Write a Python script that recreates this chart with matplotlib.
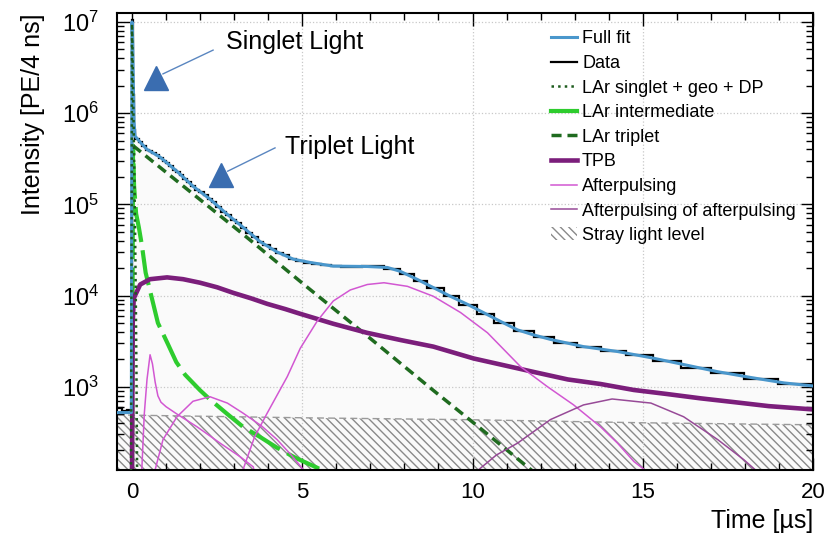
import matplotlib.pyplot as plt
from matplotlib.patches import Patch
from matplotlib.ticker import MultipleLocator, LogLocator

plt.rcParams['font.family'] = ['Liberation Sans', 'DejaVu Sans']
plt.rcParams['mathtext.fontset'] = 'custom'
plt.rcParams['mathtext.rm'] = 'Liberation Sans'
plt.rcParams['mathtext.it'] = 'Liberation Sans:italic'
plt.rcParams['hatch.linewidth'] = 1.0

# Datos (histograma con bins que crecen con el tiempo)
data_edges = [-0.6, -0.3, -0.15, 0.0, 0.03, 0.06, 0.1,
              0.2, 0.3, 0.4, 0.5, 0.6, 0.7, 0.8, 0.9, 1.0, 1.1, 1.2, 1.3, 1.4, 1.5,
              1.62, 1.74, 1.86, 1.98, 2.1, 2.22, 2.35, 2.48, 2.62, 2.76, 2.9,
              3.05, 3.2, 3.36, 3.52, 3.69, 3.86, 4.04, 4.23, 4.42, 4.62, 4.83,
              5.05, 5.3, 5.55, 5.85, 6.15, 6.45, 6.75, 7.05, 7.39,
              7.88, 8.27, 8.67, 9.16, 9.60, 10.14, 10.63, 11.22, 11.80, 12.39,
              13.08, 13.76, 14.50, 15.29, 16.12, 17.0, 17.98, 18.96, 19.94, 20.9]
data_counts = [580, 540, 560, 1.05e7, 1.6e6, 6.6e5,
               5.25e5, 4.79e5, 4.37e5, 3.98e5, 3.85e5, 3.67e5, 3.47e5, 3.24e5, 3.02e5,
               2.82e5, 2.63e5, 2.40e5, 2.24e5, 2.09e5,
               1.91e5, 1.74e5, 1.58e5, 1.45e5, 1.35e5, 1.26e5,
               1.15e5, 1.05e5, 9.3e4, 8.3e4, 7.6e4,
               6.8e4, 6.2e4, 5.5e4, 4.9e4, 4.4e4, 3.9e4,
               3.55e4, 3.24e4, 2.95e4, 2.75e4, 2.51e4,
               2.4e4, 2.29e4, 2.21e4, 2.14e4, 2.09e4, 2.07e4, 2.04e4, 2.09e4, 2.11e4,
               1.95e4, 1.70e4, 1.45e4, 1.20e4, 9.8e3,
               7.9e3, 6.3e3, 5.0e3, 4.1e3, 3.5e3,
               3.0e3, 2.7e3, 2.45e3, 2.2e3, 1.9e3,
               1.62e3, 1.40e3, 1.2e3, 1.07e3, 980]

# Ajuste completo
fit_t = [-0.44, -0.02, 0.0, 0.02, 0.04, 0.06, 0.09, 0.24, 0.44, 0.82, 1.32, 1.79,
         2.29, 2.79, 3.26, 3.76, 4.26, 4.74, 5.24, 5.91, 6.91, 7.5, 7.88, 8.38,
         8.85, 9.35, 9.85, 10.32, 10.82, 11.32, 11.79, 12.29, 13.26, 14.26,
         15.24, 16.2, 17.2, 18.18, 19.15, 20.2]
fit_y = [520, 520, 1.0e7, 6e6, 2e6, 8e5, 5.6e5, 4.8e5, 4.0e5, 3.3e5, 2.3e5, 1.58e5,
         1.14e5, 7.8e4, 5.6e4, 3.9e4, 3.0e4, 2.5e4, 2.3e4, 2.1e4, 2.08e4, 2.03e4,
         1.84e4, 1.5e4, 1.22e4, 9.8e3, 8.0e3, 6.5e3, 5.2e3, 4.2e3, 3.7e3, 3.3e3,
         2.75e3, 2.43e3, 2.08e3, 1.75e3, 1.46e3, 1.26e3, 1.1e3, 1.0e3]

# Componentes
singlet_t = [-0.03, -0.01, 0.0, 0.01, 0.03, 0.05, 0.07, 0.09, 0.11, 0.13, 0.15]
singlet_y = [100, 1e5, 9.5e6, 6e6, 2e6, 6e5, 2e5, 5e4, 1e4, 1.5e3, 100]

inter_t = [0.0, 0.03, 0.06, 0.12, 0.2, 0.29, 0.4, 0.55, 0.76, 1.06, 1.3, 1.56,
           2.0, 2.29, 2.8, 3.26, 3.8, 4.26, 4.8, 5.44, 5.7]
inter_y = [100, 4.4e5, 1.6e5, 7.9e4, 5.6e4, 3.55e4, 1.78e4, 1.05e4, 5.0e3, 2.9e3,
           1.86e3, 1.35e3, 912, 724, 501, 363, 275, 214, 166, 129, 115]

triplet_t = [0.03, 1.32, 3.26, 5.15, 6.76, 8.85, 10.24, 11.75, 12.0]
triplet_y = [4.4e5, 1.8e5, 4.7e4, 1.23e4, 4.0e3, 910, 347, 120, 100]

tpb_t = [0.0, 0.02, 0.05, 0.24, 0.53, 1.03, 1.5, 2.0, 2.5, 2.97, 3.5, 3.97, 4.5,
         4.94, 5.91, 6.9, 7.9, 8.85, 10.03, 11.8, 12.8, 13.76, 14.74, 15.7, 16.7,
         17.7, 18.7, 20.2]
tpb_y = [100, 5.0e3, 9.3e3, 1.32e4, 1.51e4, 1.58e4, 1.51e4, 1.38e4, 1.23e4, 1.07e4,
         9.3e3, 8.1e3, 7.1e3, 6.3e3, 4.9e3, 3.9e3, 3.24e3, 2.75e3, 2.04e3, 1.45e3,
         1.2e3, 1.07e3, 920, 832, 745, 676, 612, 556]

ap1_t = [0.27, 0.29, 0.36, 0.44, 0.53, 0.6, 0.68, 0.76, 0.85, 1.0, 1.32, 1.91,
         2.59, 3.18, 3.56, 3.7]
ap1_y = [79, 129, 501, 1.2e3, 2.24e3, 1.78e3, 1.12e3, 794, 676, 603, 501, 363,
         240, 170, 132, 79]

ap2_t = [0.6, 0.68, 0.91, 1.32, 1.79, 2.29, 2.8, 3.26, 3.8, 4.26, 4.7, 5.03, 5.12]
ap2_y = [79, 123, 263, 468, 692, 776, 661, 513, 372, 263, 174, 123, 79]

ap3_t = [3.2, 3.26, 3.6, 3.97, 4.56, 4.94, 5.44, 5.91, 6.41, 6.91, 7.4, 8.09,
         8.85, 9.65, 10.44, 11.41, 12.2, 12.97, 13.76, 14.26, 14.74, 15.05, 15.12]
ap3_y = [79, 123, 282, 513, 1.29e3, 2.63e3, 5.25e3, 8.7e3, 1.15e4, 1.32e4, 1.38e4,
         1.26e4, 9.8e3, 6.5e3, 3.9e3, 1.66e3, 1.0e3, 631, 363, 240, 151, 123, 79]

apap_t = [10.1, 10.18, 10.7, 11.32, 12.29, 13.26, 14.1, 15.24, 16.2, 17.2, 17.97,
          18.3, 18.4]
apap_y = [79, 123, 178, 240, 436, 631, 733, 661, 468, 263, 158, 123, 79]

stray_t = [-0.44, 5, 10, 15, 20]
stray_y = [490, 456, 434, 402, 382]

fig = plt.figure(figsize=(8.33, 5.35), dpi=100)
ax = fig.add_axes([0.1405, 0.1215, 0.8355, 0.854])

# Luz parásita (rayado)
ax.fill_between(stray_t, 1, stray_y, facecolor='none', edgecolor='#8a8a8a',
                hatch='\\\\\\\\', linewidth=0, zorder=1)
ax.plot(stray_t, stray_y, ls=(0, (5, 3)), color='#9a9a9a', lw=1.0, zorder=1)

# Datos
ax.stairs(data_counts, data_edges, baseline=1, fill=True, color='#fafafa', zorder=0.5)
ax.stairs(data_counts, data_edges, baseline=None, color='black', lw=1.6, zorder=3)

# Componentes
ax.plot(inter_t, inter_y, color='#2ecc2e', lw=3.0, ls=(0, (8.5, 2)), zorder=2)
ax.plot(triplet_t, triplet_y, color='#1f6b1f', lw=2.5, ls=(0, (2.9, 1.7)), zorder=2)
ax.plot(tpb_t, tpb_y, color='#7b1e7b', lw=3.3, zorder=2)
for t, y in [(ap1_t, ap1_y), (ap2_t, ap2_y), (ap3_t, ap3_y)]:
    ax.plot(t, y, color='#d257d2', lw=1.1, zorder=2)
ax.plot(apap_t, apap_y, color='#974a97', lw=1.1, zorder=2)
ax.plot(fit_t, fit_y, color='#4a97cc', lw=2.2, zorder=4)
ax.plot(singlet_t, singlet_y, color='#1d5c1d', lw=1.8, ls=':', zorder=5)

ax.set_yscale('log')
ax.set_xlim(-0.44, 20.0)
ax.set_ylim(122, 1.25e7)

ax.xaxis.set_major_locator(MultipleLocator(5))
ax.xaxis.set_minor_locator(MultipleLocator(1))
ax.yaxis.set_major_locator(LogLocator(base=10))
ax.yaxis.set_minor_locator(LogLocator(base=10, subs=range(2, 10)))
ax.tick_params(which='both', direction='in', top=True, right=True, width=1)
ax.tick_params(which='major', length=9)
ax.tick_params(axis='x', which='major', pad=9, labelsize=16)
ax.tick_params(axis='y', which='major', pad=13, labelsize=17)
ax.tick_params(which='minor', length=5)
for s in ax.spines.values():
    s.set_linewidth(1.5)
ax.grid(True, which='major', ls=':', color='#c8c8c8', lw=0.9)

ax.set_xlabel('Time [µs]', loc='right', fontsize=18, labelpad=4)
ax.set_ylabel('Intensity [PE/4 ns]', loc='top', fontsize=18, labelpad=12)

# Anotaciones con flecha
arrow_col = '#3a6db0'
for label, tri, start, end, txt in [
        ('Singlet Light', (0.056, 0.858), (0.066, 0.867), (0.138, 0.919), (0.157, 0.937)),
        ('Triplet Light', (0.149, 0.646), (0.159, 0.654), (0.227, 0.705), (0.241, 0.707))]:
    ax.plot([start[0], end[0]], [start[1], end[1]], color='#5a86c0', lw=1,
            transform=ax.transAxes, zorder=6)
    ax.plot(tri[0], tri[1], marker='^', ms=17, color=arrow_col, mec=arrow_col,
            transform=ax.transAxes, zorder=6)
    ax.text(txt[0], txt[1], label, transform=ax.transAxes, fontsize=18,
            va='center', ha='left', zorder=6)

handles = [
    plt.Line2D([], [], color='#4a97cc', lw=2.2),
    plt.Line2D([], [], color='black', lw=1.6),
    plt.Line2D([], [], color='#1d5c1d', lw=1.8, ls=':'),
    plt.Line2D([], [], color='#2ecc2e', lw=3.0),
    plt.Line2D([], [], color='#1f6b1f', lw=2.5, ls=(0, (2.9, 1.7))),
    plt.Line2D([], [], color='#7b1e7b', lw=3.3),
    plt.Line2D([], [], color='#d257d2', lw=1.1),
    plt.Line2D([], [], color='#974a97', lw=1.1),
    Patch(facecolor='none', edgecolor='#8a8a8a', hatch='\\\\\\\\', lw=0),
]
labels = ['Full fit', 'Data', 'LAr singlet + geo + DP', 'LAr intermediate',
          'LAr triplet', 'TPB', 'Afterpulsing', 'Afterpulsing of afterpulsing',
          'Stray light level']
ax.legend(handles, labels, loc='upper left', bbox_to_anchor=(0.624, 0.962),
          frameon=False, fontsize=13, handlelength=1.4, handletextpad=0.3,
          labelspacing=0.42, borderpad=0, borderaxespad=0)

fig.savefig('out.png', dpi=100)
